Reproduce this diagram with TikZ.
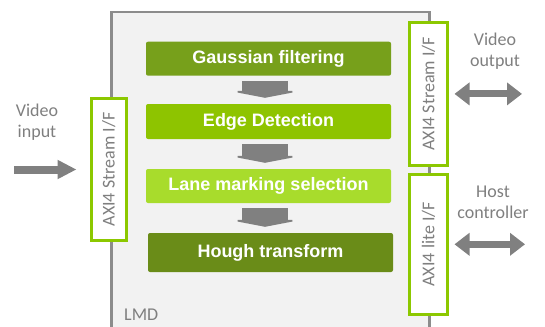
\documentclass[tikz,border=0pt]{standalone}
\usepackage{fontspec}
\setmainfont{Liberation Sans}
\newfontfamily\labelfont{Carlito}
\usepackage{xcolor}
\usepackage{tikz}
\usetikzlibrary{calc}
\usetikzlibrary{arrows.meta}

\definecolor{lmdfill}{HTML}{F2F2F2}
\definecolor{lmdline}{HTML}{8C8C8C}
\definecolor{ifgreen}{HTML}{8CC800}
\definecolor{arrowgray}{HTML}{808080}
\definecolor{labelgray}{HTML}{7F7F7F}
\definecolor{gaussgreen}{HTML}{77A01B}
\definecolor{edgegreen}{HTML}{8EC400}
\definecolor{lanegreen}{HTML}{A8DC2C}
\definecolor{houghgreen}{HTML}{6A8C18}

\begin{document}
\begin{tikzpicture}[x=1pt,y=-1pt,
		block/.style={rounded corners=2pt, inner sep=0pt, minimum width=245pt, minimum height=34pt, text=white, font=\fontsize{18}{21}\selectfont\bfseries},
		ifbox/.style={draw=ifgreen, fill=white, line width=3pt, inner sep=0pt, minimum width=38pt, text=labelgray, font=\labelfont\fontsize{18}{21}\selectfont},
		sidelabel/.style={align=center, text=labelgray, font=\labelfont\fontsize{18}{21}\selectfont},
		flowarrow/.style={draw=arrowgray, line width=46pt, -{Triangle[length=7pt,width=73pt]}},
		bothways/.style={draw=arrowgray, line width=7pt, {Triangle[length=15pt,width=22pt]}-{Triangle[length=15pt,width=22pt]}}]
		\clip (0,0) rectangle (545,326);

		% LMD core
		\node at (110,11) (lmd) [anchor=north west, fill=lmdfill, draw=lmdline, line width=2.5pt, minimum width=318pt, minimum height=340pt] {};
		\node at (124,320) (lmdname) [anchor=base west, inner sep=0pt, text=labelgray, font=\labelfont\fontsize{18}{21}\selectfont] {LMD};

		% Processing steps
		\node at (268.5,58.7) (gauss) [block, fill=gaussgreen] {Gaussian filtering};
		\node at (268.5,121.5) (edge) [block, fill=edgegreen, minimum height=35pt] {Edge Detection};
		\node at (268.5,186) (lane) [block, fill=lanegreen] {Lane marking selection};
		\node at (270.5,252.5) (hough) [block, fill=houghgreen, minimum height=39pt] {Hough transform};
		\foreach \a/\b in {gauss/edge,edge/lane,lane/hough}{
			\draw[flowarrow] ([xshift=-3.5pt,yshift=-5pt]\a.south) -- ([xshift=-3.5pt,yshift=6pt]\a.south |- \b.north);
		}

		% Interfaces
		\node at (108.75,169.5) (sin) [ifbox, minimum width=34.5pt, minimum height=141.4pt] {\rotatebox{90}{AXI4 Stream I/F}};
		\node at (428.5,93.9) (sout) [ifbox, minimum height=142.7pt] {\rotatebox{90}{AXI4 Stream I/F}};
		\node at (428.5,244.3) (lite) [ifbox, minimum height=140.3pt] {\rotatebox{90}{AXI4 lite I/F}};

		% Video input
		\node at (37,122.5) (vin) [sidelabel] {Video\\input};
		\coordinate (vinstart) at (14,169.5);
		\draw[draw=arrowgray, line width=8pt, -{Triangle[length=19pt,width=18pt]}] (vinstart) -- ([xshift=-13.5pt]sin.west);

		% Video output
		\node at (495,51) (vout) [sidelabel] {Video\\output};
		\coordinate (voutend) at (522,93.9);
		\draw[bothways] ([xshift=5.5pt]sout.east) -- (voutend);

		% Host controller
		\node at (493,202.5) (host) [sidelabel] {Host\\controller};
		\coordinate (hostend) at (525,244.3);
		\draw[bothways] ([xshift=5.5pt]lite.east) -- (hostend);

	\end{tikzpicture}
\end{document}
